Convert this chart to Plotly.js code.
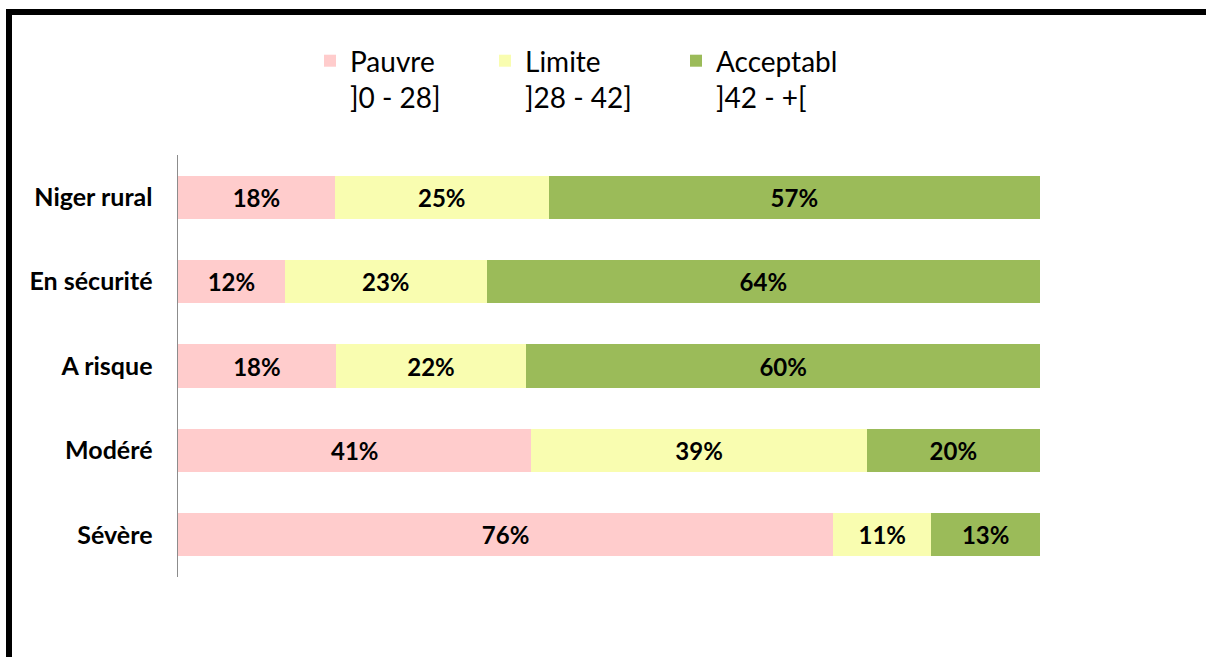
<!DOCTYPE html>
<html>
<head>
<meta charset="utf-8">
<script src="https://cdn.plot.ly/plotly-3.0.1.min.js"></script>
<style>
html,body{margin:0;padding:0;background:#fff;}
#chart{width:1206px;height:657px;}
</style>
</head>
<body>
<div id="chart"></div>
<script>
const categories = ["Niger rural", "En sécurité", "A risque", "Modéré", "Sévère"];
const seriesNames = ["Pauvre<br>]0 - 28]", "Limite<br>]28 - 42]", "Acceptabl<br>]42 - +["];
const pauvre = [18.2, 12.4, 18.3, 41.0, 76.0];
const limite = [24.8, 23.4, 22.1, 38.9, 11.4];
const acceptable = [57.0, 64.2, 59.6, 20.1, 12.6];
const colors = ["#FFCCCC", "#F9FDB0", "#9BBB59"];

const FONT = "Lato, 'Open Sans', sans-serif";
const allValues = [pauvre, limite, acceptable];
const legendIds = ["legend", "legend2", "legend3"];

const traces = allValues.map((vals, i) => ({
  type: "bar",
  orientation: "h",
  name: seriesNames[i],
  y: categories,
  x: vals,
  text: vals.map(v => Math.round(v) + "%"),
  textposition: "inside",
  insidetextanchor: "middle",
  constraintext: "none",
  textfont: {family: FONT, size: 24, color: "#000", weight: "bold"},
  marker: {color: colors[i], line: {width: 0}},
  legend: legendIds[i],
  hoverinfo: "skip"
}));

const legendBase = {
  orientation: "h",
  xref: "container", yref: "container",
  xanchor: "left", yanchor: "top",
  y: 1 - 36/657,
  valign: "top",
  bgcolor: "rgba(0,0,0,0)",
  font: {family: FONT, size: 28, color: "#000"},
  itemclick: false, itemdoubleclick: false
};

const layout = {
  width: 1206, height: 657,
  margin: {l: 178, r: 166, t: 155, b: 80},
  paper_bgcolor: "#fff",
  plot_bgcolor: "#fff",
  barmode: "stack",
  barnorm: "percent",
  bargap: 0.49,
  showlegend: true,
  legend: Object.assign({}, legendBase, {x: 310/1206}),
  legend2: Object.assign({}, legendBase, {x: 485/1206}),
  legend3: Object.assign({}, legendBase, {x: 676/1206}),
  xaxis: {range: [0, 100], visible: false, fixedrange: true},
  yaxis: {
    autorange: "reversed",
    showline: true, linecolor: "#8C8C8C", linewidth: 1.5,
    ticks: "", showgrid: false, zeroline: false,
    ticklabelstandoff: 19,
    tickfont: {family: FONT, size: 25, color: "#000", weight: "bold"},
    fixedrange: true
  },
  shapes: [{
    type: "rect", xref: "paper", yref: "paper",
    x0: (9 - 178) / 862, x1: 1.5,
    y0: -1, y1: (577 - 12) / 422,
    line: {color: "#000", width: 6},
    layer: "above"
  }]
};

Plotly.newPlot("chart", traces, layout, {displayModeBar: false, staticPlot: true});
</script>
</body>
</html>
